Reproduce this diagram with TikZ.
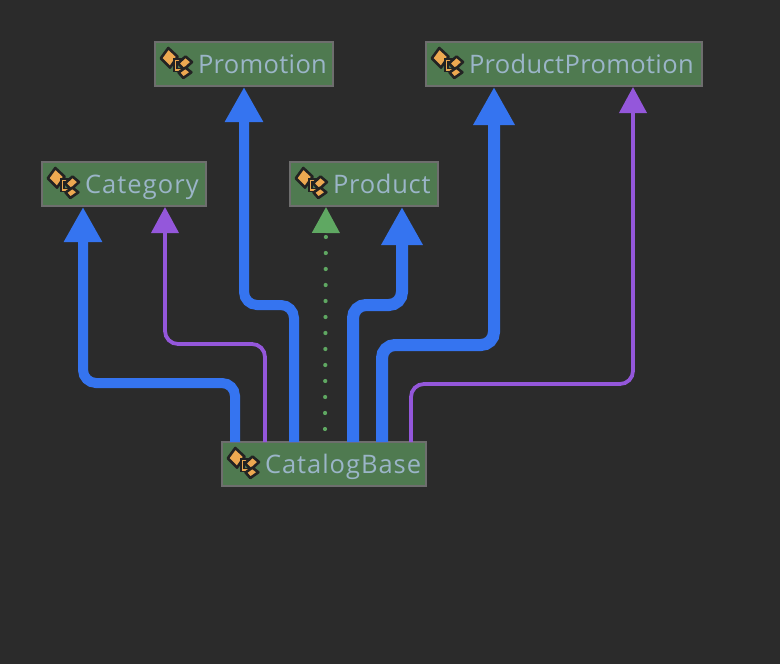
\documentclass[tikz,border=0pt]{standalone}
\usepackage{fontspec}
\setmainfont{Open Sans}[LetterSpace=1.3]
\usetikzlibrary{arrows.meta}
\definecolor{bgc}{HTML}{2B2B2B}
\definecolor{boxc}{HTML}{4F7A50}
\definecolor{edgec}{HTML}{6E6E6E}
\definecolor{txtc}{HTML}{9BB5C8}
\definecolor{bluec}{HTML}{3574F0}
\definecolor{purc}{HTML}{9457DB}
\definecolor{grnc}{HTML}{5FA862}
\definecolor{orgc}{HTML}{EDA951}
\definecolor{darkc}{HTML}{232323}
\tikzset{
  x=1pt,y=-1pt,
  cls/.style={draw=edgec,fill=boxc,line width=2.5pt,inner sep=0pt,outer sep=0pt,anchor=north west,text=txtc,font=\fontsize{25.5}{28}\selectfont,text height=31pt,text depth=13pt},
  link/.style={rounded corners=13pt,line cap=butt,shorten >=1pt},
  big/.style={link,draw=bluec,line width=#1},
  thin/.style={link,draw=purc,line width=3.8pt,-{Triangle[length=26pt,width=27pt,fill=purc]}},
  arrA/.style={-{Triangle[length=35pt,width=36pt,fill=bluec]}},
  arrB/.style={-{Triangle[length=38pt,width=39pt,fill=bluec]}},
  iconp/.style={fill=orgc,draw=darkc,line width=2.6pt,line join=round},
}
\newcommand{\clsicon}[2]{%
  \begin{scope}[shift={(#1,#2)}]
    \path[iconp] (13.3,6) -- (22.6,14.7) -- (15,25.6) -- (5.8,16.3) -- cycle;
    \draw[darkc,line width=4.4pt] (28,18.3) -- (20.3,18.3) -- (20.3,27.7) -- (28,27.7);
    \draw[orgc,line width=1.6pt] (28,18.3) -- (20.3,18.3) -- (20.3,27.7) -- (28,27.7);
    \path[iconp] (30.5,14.5) -- (37,20) -- (29,27.5) -- (23,21.3) -- cycle;
    \path[iconp] (30.3,25.6) -- (36.4,30.3) -- (28.3,36) -- (23.6,30.5) -- cycle;
  \end{scope}}
\newcommand{\clstext}[3]{\makebox[#1][l]{\hspace*{43pt}\addfontfeature{LetterSpace=#3}#2}}
\begin{document}
\begin{tikzpicture}
\fill[bgc] (0,0) rectangle (780,664);
\useasboundingbox (0,0) rectangle (780,664);
\node[cls] (promo) at (155,42) {\clstext{178pt}{Promotion}{1.3}};
\node[cls] (pp) at (426,42) {\clstext{276pt}{ProductPromotion}{1.4}};
\node[cls] (cat) at (42,162) {\clstext{164pt}{Category}{4.2}};
\node[cls] (prod) at (290,162) {\clstext{148pt}{Product}{3}};
\node[cls] (base) at (222,442) {\clstext{204pt}{CatalogBase}{3.8}};
\clsicon{155}{42}\clsicon{426}{42}\clsicon{42}{162}\clsicon{290}{162}\clsicon{222}{442}
\draw[big=10pt,arrA] (235,0 |- base.north) -- (235,383) -- (83,383) -- (83,0 |- cat.south);
\draw[thin] (265,0 |- base.north) -- (265,344) -- (165,344) -- (165,0 |- cat.south);
\draw[big=10pt,arrA] (294,0 |- base.north) -- (294,305) -- (244,305) -- (244,0 |- promo.south);
\draw[grnc,line width=4.2pt,line cap=round,dash pattern=on 0pt off 16pt,shorten >=1pt,-{Triangle[length=26pt,width=27pt,fill=grnc]}] (325,0 |- base.north) ++(0,-13) -- (326,0 |- prod.south);
\draw[big=12pt,arrB] (353,0 |- base.north) -- (353,305) -- (402,305) -- (402,0 |- prod.south);
\draw[big=12pt,arrB] (382,0 |- base.north) -- (382,345) -- (494,345) -- (494,0 |- pp.south);
\draw[thin] (411,0 |- base.north) -- (411,384) -- (633,384) -- (633,0 |- pp.south);
\end{tikzpicture}
\end{document}
